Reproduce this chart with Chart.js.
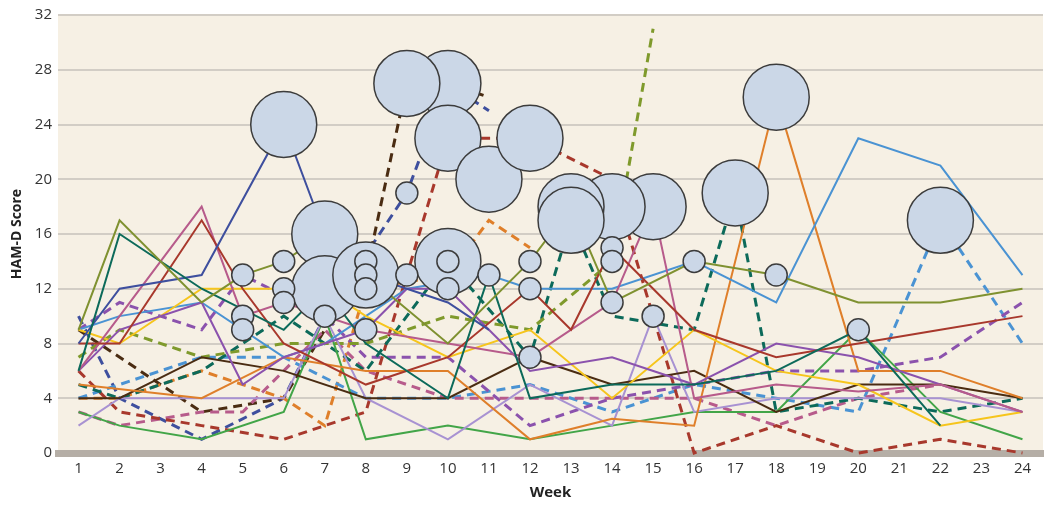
<!DOCTYPE html>
<html>
<head>
<meta charset="utf-8">
<script src="https://cdn.jsdelivr.net/npm/chart.js@4.4.1/dist/chart.umd.min.js"></script>
<style>
  html, body { margin: 0; padding: 0; background: #fff; }
  #wrap { width: 1050px; height: 506px; }
</style>
</head>
<body>
<div id="wrap"><canvas id="hamdChart"></canvas></div>
<script>
// Week ticks and score ticks
const weeks = [1,2,3,4,5,6,7,8,9,10,11,12,13,14,15,16,17,18,19,20,21,22,23,24];
const scoreTicks = [0,4,8,12,16,20,24,28,32];

// Patients: [week, HAM-D score]
const oliveSolid = [[1,9],[2,17],[4,11],[5,13],[6,14],[7,16],[8,13],[10,8],[12,14],[13,18],[14,11],[16,14],[18,13],[20,11],[22,11],[24,12]];
const tealSolid = [[1,6],[2,16],[4,12],[6,9],[7,12],[8,8],[10,4],[11,13],[12,4],[14,5],[16,5],[18,6],[20,9],[22,2]];
const navySolid = [[1,8],[2,12],[4,13],[6,24],[7,16],[8,13],[9,12],[10,11],[11,9]];
const redSolid = [[1,8],[2,8],[4,17],[5,12],[6,8],[8,5],[10,7],[12,12],[13,9],[14,15],[16,9],[18,7],[20,8],[22,9],[24,10]];
const pinkSolid = [[1,6],[4,18],[5,10],[6,11],[8,9],[10,8],[12,7],[14,11],[15,18],[16,4],[18,5],[20,4.5],[22,5],[24,3]];
const purpleSolid = [[1,6],[2,9],[4,11],[5,5],[6,7],[7,8],[8,9],[9,12],[10,12],[11,9],[12,6],[14,7],[16,5],[18,8],[20,7],[22,5],[24,3]];
const yellowSolid = [[1,9],[2,8],[4,12],[6,12],[7,12],[8,10],[10,7],[12,9],[14,4],[16,9],[18,6],[20,5],[22,2],[24,3]];
const blueSolid = [[1,9],[2,10],[4,11],[6,7],[7,8],[8,10],[9,12],[10,12.5],[11,13],[12,12],[14,12],[16,14],[18,11],[20,23],[22,21],[24,13]];
const orangeSolid = [[1,5],[4,4],[6,7],[8,6],[10,6],[12,1],[14,2.5],[16,2],[18,26],[20,6],[22,6],[24,4]];
const brownSolid = [[1,4],[2,4],[4,7],[6,6],[8,4],[10,4],[12,7],[14,5],[16,6],[18,3],[20,5],[22,5],[24,4]];
const lavenderSolid = [[1,2],[2,4],[4,4],[6,4],[7,10],[8,4],[10,1],[12,5],[14,2],[15,10],[16,3],[18,4],[20,4],[22,4],[24,3]];
const greenSolid = [[1,3],[2,2],[4,1],[6,3],[7,10],[8,1],[10,2],[12,1],[14,2],[16,3],[18,3],[20,9],[22,3],[24,1]];

const oliveDashed = [[1,7],[2,9],[4,7],[6,8],[8,8],[10,10],[12,9],[14,14],[15,31]];
const tealDashed = [[1,5],[2,4],[4,6],[6,10],[8,6],[10,14],[12,7],[13,17],[14,10],[16,9],[17,19],[18,3],[20,4],[22,3],[24,4]];
const redDashed = [[1,6],[2,3],[4,2],[6,1],[7,2],[8,3],[10,23],[12,23],[14,20],[16,0],[18,2],[20,0],[22,1],[24,0]];
const pinkDashed = [[1,3],[2,2],[4,3],[5,3],[6,6],[7,9],[8,6],[10,4],[12,4],[14,4],[16,4],[18,2],[20,4],[22,5]];
const purpleDashed = [[1,9],[2,11],[4,9],[5,13],[7,10],[8,7],[10,7],[12,2],[14,4],[16,5],[18,6],[20,6],[22,7],[24,11]];
const blueDashed = [[1,4],[2,5],[4,7],[6,7],[8,4],[10,4],[12,5],[14,3],[16,5],[18,4],[20,3],[22,17],[24,8]];
const orangeDashed = [[1,4],[2,4],[4,6],[6,4],[7,2],[8,12],[10,13],[11,17],[12,15]];
const brownDashed = [[1,9],[4,3],[6,4],[7,9],[8,13],[9,27],[10,27],[11,26]];
const navyDashed = [[1,10],[2,4],[4,1],[6,4],[7,10],[9,19],[10,27],[11,25]];

// Flagged visits (level 3 = large marker, 1 = small marker)
const bubbleWeeks  = [6,7,7,8,10,9,10,11,12,10,15,14,13,13,17,18,22, 5,5,5,6,6,6,7,8,8,8,8,9,9,10,10,11,12,12,12,14,14,14,15,16,18,20];
const bubbleScores = [24,16,12,13,27,27,23,20,23,14,18,18,18,17,19,26,17, 13,10,9,14,12,11,10,14,13,12,9,13,19,14,12,13,14,12,7,15,14,11,10,14,13,9];
const bubbleLevels = [3,3,3,3,3,3,3,3,3,3,3,3,3,3,3,3,3, 1,1,1,1,1,1,1,1,1,1,1,1,1,1,1,1,1,1,1,1,1,1,1,1,1,1];

function toPoints(arr) {
    return arr.map(p => ({ x: p[0], y: p[1] }));
}

function lineSet(arr, color, dashed) {
    return {
        type: 'scatter',
        data: toPoints(arr),
        showLine: true,
        borderColor: color,
        backgroundColor: color,
        borderWidth: dashed ? 3 : 2,
        borderDash: dashed ? [9, 6] : [],
        pointRadius: 0,
        tension: 0,
        clip: false,
        order: 1
    };
}

const datasets = [
    lineSet(oliveSolid, '#7f9130', false),
    lineSet(tealSolid, '#0c6a5a', false),
    lineSet(navySolid, '#3e4f9e', false),
    lineSet(redSolid, '#a8382c', false),
    lineSet(pinkSolid, '#b75b8b', false),
    lineSet(purpleSolid, '#8b52ad', false),
    lineSet(yellowSolid, '#f6c51c', false),
    lineSet(blueSolid, '#4a93d3', false),
    lineSet(orangeSolid, '#df7f2a', false),
    lineSet(brownSolid, '#4a2c12', false),
    lineSet(lavenderSolid, '#a892d2', false),
    lineSet(greenSolid, '#42a548', false),
    lineSet(oliveDashed, '#7f9a2c', true),
    lineSet(tealDashed, '#0c6a5a', true),
    lineSet(redDashed, '#a8382c', true),
    lineSet(pinkDashed, '#b75b8b', true),
    lineSet(purpleDashed, '#8b52ad', true),
    lineSet(blueDashed, '#4a93d3', true),
    lineSet(orangeDashed, '#df7f2a', true),
    lineSet(brownDashed, '#4a2c12', true),
    lineSet(navyDashed, '#3e4f9e', true)
];

datasets.push({
    type: 'bubble',
    data: bubbleWeeks.map((w, i) => ({ x: w, y: bubbleScores[i], r: bubbleLevels[i] * 11 })),
    backgroundColor: '#cbd7e7',
    borderColor: '#3c3c3c',
    borderWidth: 1.5,
    clip: false,
    order: 0
});

// Cream plot background, white around it
const plotBackground = {
    id: 'plotBackground',
    beforeDraw(chart) {
        const ctx = chart.ctx;
        const a = chart.chartArea;
        ctx.save();
        ctx.fillStyle = '#ffffff';
        ctx.fillRect(0, 0, chart.width, chart.height);
        ctx.fillStyle = '#f6f0e4';
        ctx.fillRect(a.left, a.top, a.right - a.left, a.bottom - a.top);
        ctx.restore();
    }
};

const ctx = document.getElementById('hamdChart').getContext('2d');
new Chart(ctx, {
    type: 'scatter',
    data: { datasets: datasets },
    options: {
        responsive: true,
        maintainAspectRatio: false,
        animation: false,
        events: [],
        layout: { autoPadding: false, padding: { top: 11, right: 7, left: 0, bottom: 0 } },
        plugins: {
            legend: { display: false },
            tooltip: { enabled: false }
        },
        scales: {
            x: {
                type: 'linear',
                min: 0.5,
                max: 24.5,
                afterBuildTicks: axis => { axis.ticks = weeks.map(v => ({ value: v })); },
                afterFit: axis => { axis.height = 53; },
                grid: { display: false, drawTicks: false },
                border: { display: true, color: '#b5aea6', width: 7 },
                ticks: {
                    color: '#333',
                    padding: 7,
                    font: { family: 'Open Sans', size: 15 },
                    maxRotation: 0,
                    autoSkip: false
                },
                title: {
                    display: true,
                    text: 'Week',
                    color: '#222',
                    font: { family: 'Open Sans', size: 15, weight: 'bold' },
                    padding: { top: 6, bottom: 4 }
                }
            },
            y: {
                min: 0,
                max: 32,
                afterBuildTicks: axis => { axis.ticks = scoreTicks.map(v => ({ value: v })); },
                afterFit: axis => { axis.width = 58; },
                grid: { color: '#d2cdc5', lineWidth: 2, drawTicks: false },
                border: { display: false },
                ticks: {
                    color: '#333',
                    padding: 6,
                    font: { family: 'Open Sans', size: 15 }
                },
                title: {
                    display: true,
                    text: 'HAM-D Score',
                    color: '#222',
                    font: { family: 'Open Sans', size: 14, weight: 'bold' },
                    padding: { top: 9, bottom: 0 }
                }
            }
        }
    },
    plugins: [plotBackground]
});
</script>
</body>
</html>
